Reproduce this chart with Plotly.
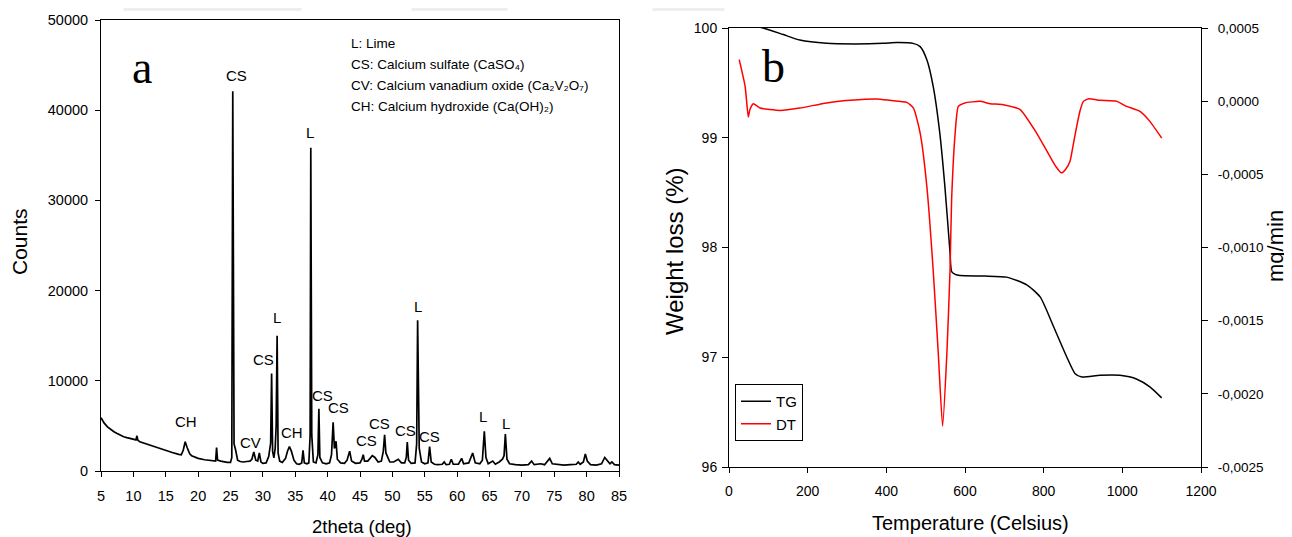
import plotly.graph_objects as go

# ---------------- Panel a: XRD pattern ----------------
two_theta = [5.0, 5.5, 6.0, 6.5, 7.0, 7.5, 8.0, 8.5, 9.0, 9.5, 10.0, 10.4, 10.55, 10.7, 11.0,
             12.0, 13.0, 14.0, 15.0, 16.0, 17.0, 17.4, 17.7, 18.0, 18.3, 18.7, 19.0, 19.5, 20.0,
             21.0, 22.0, 22.7, 22.85, 23.0, 23.5, 24.0, 24.5, 25.0, 25.2, 25.35, 25.55, 25.8,
             26.1, 26.5, 27.0, 27.5, 28.0, 28.3, 28.6, 28.9, 29.2, 29.45, 29.7, 30.0, 30.5,
             30.9, 31.1, 31.2, 31.35, 31.5, 31.7, 31.9, 32.05, 32.2, 32.35, 32.6, 33.0, 33.5,
             33.8, 34.1, 34.4, 34.8, 35.2, 35.6, 36.0, 36.2, 36.4, 36.8, 37.1, 37.3, 37.4,
             37.55, 37.8, 38.2, 38.5, 38.65, 38.8, 39.2, 39.8, 40.3, 40.6, 40.85, 41.05, 41.3,
             41.5, 42.0, 42.6, 43.0, 43.4, 43.7, 44.3, 45.0, 45.3, 45.5, 45.7, 46.2, 46.9,
             47.3, 47.8, 48.3, 48.6, 48.8, 49.0, 49.2, 49.6, 50.2, 50.9, 51.4, 51.9, 52.15,
             52.3, 52.5, 52.9, 53.5, 53.75, 53.9, 54.0, 54.15, 54.5, 55.0, 55.5, 55.75, 56.0,
             56.5, 57.0, 57.7, 58.0, 58.3, 58.8, 59.1, 59.4, 60.2, 60.7, 61.0, 61.8, 62.4,
             62.8, 63.5, 63.9, 64.2, 64.45, 64.8, 65.5, 65.9, 66.5, 67.0, 67.25, 67.45, 67.7,
             68.1, 69.0, 70.0, 71.0, 71.5, 71.9, 72.9, 73.5, 74.3, 74.7, 75.5, 76.5, 77.5,
             78.4, 78.7, 79.0, 79.5, 79.8, 80.1, 80.6, 81.5, 82.3, 82.8, 83.2, 83.6, 83.9,
             84.3, 85.0]
counts = [5900, 5300, 4900, 4600, 4350, 4150, 3950, 3800, 3700, 3600, 3500, 3450, 3900, 3400, 3250,
          3000, 2750, 2500, 2300, 2050, 1850, 1800, 2300, 3250, 2600, 1900, 1700, 1550, 1400,
          1250, 1150, 1100, 2600, 1200, 1100, 1000, 950, 950, 1500, 42100, 3000, 2300,
          1200, 1050, 1000, 1050, 1100, 1300, 2100, 1200, 1100, 2000, 1000, 850, 900,
          1600, 3000, 3100, 10800, 2200, 1450, 2500, 5000, 15000, 2000, 1100, 950, 1400,
          2200, 2700, 2200, 1200, 800, 750, 900, 2300, 900, 800, 900, 4000, 35850,
          4000, 1000, 900, 1800, 6900, 1500, 900, 800, 900, 1800, 5400, 2500, 3300,
          1300, 900, 850, 1200, 2200, 1100, 850, 900, 1300, 1800, 1100, 1100, 1700,
          1500, 1000, 1100, 2200, 4000, 2000, 1600, 1000, 1000, 1300, 900, 900, 1500,
          3200, 1200, 850, 900, 3000, 16700, 9200, 2500, 1000, 800, 900, 2700, 1000,
          750, 700, 750, 1000, 700, 750, 1300, 750, 750, 1400, 800, 900, 2000,
          900, 800, 1200, 4400, 1500, 800, 1100, 750, 1000, 1300, 1700, 4100, 1300,
          800, 700, 650, 700, 1100, 700, 800, 700, 1400, 800, 700, 650, 700,
          750, 1000, 750, 1000, 1900, 1100, 700, 650, 800, 1500, 1100, 800, 1000,
          700, 650]

xrd_xticks = [5, 10, 15, 20, 25, 30, 35, 40, 45, 50, 55, 60, 65, 70, 75, 80, 85]
xrd_yticks = [0, 10000, 20000, 30000, 40000, 50000]
xrd_ytick_text = ["0", "10000", "20000", "30000", "40000", "50000"]

peak_labels = ["CS", "L", "CH", "CV", "CS", "L", "CH", "CS", "CS", "CS", "CS", "CS", "L", "CS", "L", "L"]
peak_label_x = [26.0, 37.23, 18.15, 28.16, 30.11, 32.19, 34.51, 39.15, 41.72, 45.96, 48.02, 52.04,
                53.94, 55.8, 64.06, 67.51]
peak_label_y = [43810, 37520, 5480, 3190, 12410, 17030, 4300, 8330, 7080, 3330, 5220, 4480,
                18250, 3810, 6030, 5220]

phase_legend = ["L: Lime",
                "CS: Calcium sulfate (CaSO\u2084)",
                "CV: Calcium vanadium oxide (Ca\u2082V\u2082O\u2087)",
                "CH: Calcium hydroxide (Ca(OH)\u2082)"]

# ---------------- Panel b: TG / DT ----------------
temp_tg = [25, 87, 138, 180, 248, 320, 392, 426, 468, 486, 503, 519, 536, 549, 562, 566, 575, 587,
           650, 706, 757, 791, 825, 859, 880, 897, 943, 994, 1037, 1070, 1100]
tg = [100.05, 100.0, 99.94, 99.89, 99.86, 99.855, 99.86, 99.867, 99.86, 99.83, 99.71, 99.47, 99.04,
      98.55, 97.95, 97.78, 97.755, 97.745, 97.74, 97.73, 97.66, 97.55, 97.28, 97.0, 96.85, 96.82,
      96.835, 96.835, 96.80, 96.73, 96.63]

temp_dt = [26, 41, 49, 53, 62, 79, 130, 180, 248, 308, 375, 409, 452, 469, 486, 503, 519, 532, 543,
           554, 562, 566, 575, 583, 600, 638, 664, 697, 740, 782, 816, 832, 845, 856, 867, 875,
           884, 893, 901, 914, 943, 986, 1011, 1045, 1070, 1100]
dt = [0.000284, 0.000101, -0.000108, -0.000058, -0.000017, -0.000047, -0.000063, -0.000047,
      -0.000012, 0.0000055, 0.000015, 0.0000055, -0.000008, -0.000047, -0.000218, -0.000583,
      -0.00115, -0.00172, -0.00222, -0.00172, -0.00115, -0.00067, -0.000218, -0.000036,
      -0.000012, -0.0000014, -0.000017, -0.000024, -0.000058, -0.000218, -0.000378, -0.00045,
      -0.00049, -0.000465, -0.00041, -0.0003, -0.000172, -0.00006, -0.0000014, 0.000017,
      0.0000055, -0.0000014, -0.000036, -0.00007, -0.000138, -0.000252]

tga_xticks = [0, 200, 400, 600, 800, 1000, 1200]
tg_yticks = [96, 97, 98, 99, 100]
dt_yticks = [-0.0025, -0.0020, -0.0015, -0.0010, -0.0005, 0.0, 0.0005]
dt_ytick_text = ["-0,0025", "-0,0020", "-0,0015", "-0,0010", "-0,0005", "0,0000", "0,0005"]

# ---------------- Figure ----------------
# The page body adds an 8 px offset, so the figure is drawn 8 px smaller and
# all screen positions below are converted with that offset.
SW, SH = 1292, 537
OFF = 8
W, H = SW - OFF, SH - OFF
FONT = "Liberation Sans, Arial, sans-serif"
SERIF = "Liberation Serif, Times New Roman, serif"


def px_x(p):
    return (p - OFF) / W


def px_y(p):
    return 1 - (p - OFF) / H


fig = go.Figure()
fig.add_trace(go.Scatter(x=two_theta, y=counts, mode="lines", showlegend=False,
                         line=dict(color="black", width=1.7), xaxis="x", yaxis="y"))
fig.add_trace(go.Scatter(x=temp_tg, y=tg, mode="lines", name="TG",
                         line=dict(color="black", width=1.5, shape="spline", smoothing=0.6),
                         xaxis="x2", yaxis="y2"))
fig.add_trace(go.Scatter(x=temp_dt, y=dt, mode="lines", name="DT",
                         line=dict(color="red", width=1.5, shape="spline", smoothing=0.5),
                         xaxis="x2", yaxis="y3"))


def axis_style(size, ticklen=5, standoff=0):
    return dict(showline=True, linecolor="black", linewidth=1, ticks="outside", ticklen=ticklen,
                tickcolor="black", showgrid=False, zeroline=False, ticklabelstandoff=standoff,
                tickfont=dict(family=FONT, size=size, color="black"))


fig.update_layout(
    width=W, height=H,
    margin=dict(l=0, r=0, t=0, b=0, autoexpand=False),
    paper_bgcolor="white", plot_bgcolor="white",
    font=dict(family=FONT, color="black"),
    xaxis=dict(domain=[px_x(101), px_x(619)], range=[5, 85], tickvals=xrd_xticks,
               anchor="y", mirror=True, **axis_style(14.5, 5, 7)),
    yaxis=dict(domain=[px_y(471), px_y(20)], range=[0, 50000], tickvals=xrd_yticks,
               ticktext=xrd_ytick_text, anchor="x", mirror=True, **axis_style(14.5, 5, 4)),
    xaxis2=dict(domain=[px_x(729), px_x(1201)], range=[0, 1200], tickvals=tga_xticks,
                anchor="y2", mirror=True, **axis_style(14, 5, 6)),
    yaxis2=dict(domain=[px_y(467), px_y(28)], range=[96, 100], tickvals=tg_yticks,
                anchor="x2", side="left", **axis_style(14, 6, 2)),
    yaxis3=dict(range=[-0.0025, 0.0005], tickvals=dt_yticks, ticktext=dt_ytick_text,
                overlaying="y2", anchor="x2", side="right", **axis_style(13.5, 6, 7)),
    legend=dict(x=px_x(735), y=px_y(384), xanchor="left", yanchor="top",
                bordercolor="black", borderwidth=1, bgcolor="white",
                font=dict(family=FONT, size=15, color="black")),
)

# faint watermark slivers at the top edge
for x0, x1 in [(123, 304), (411, 510), (652, 727)]:
    fig.add_shape(type="path", xref="paper", yref="paper", layer="below",
                  path=f"M {px_x(x0 + 3)} {px_y(0)} L {px_x(x1)} {px_y(0)} "
                       f"L {px_x(x1 - 3)} {px_y(11)} L {px_x(x0)} {px_y(11)} Z",
                  fillcolor="#eeeeee", line=dict(width=0))

ann = []
for t, x, y in zip(peak_labels, peak_label_x, peak_label_y):
    ann.append(dict(text=t, x=x, y=y, xref="x", yref="y", showarrow=False,
                    xanchor="center", yanchor="middle",
                    font=dict(family=FONT, size=15, color="black")))

for t, yy in zip(phase_legend, [44, 64, 85, 106]):
    ann.append(dict(text=t, x=px_x(349), y=px_y(yy), xref="paper", yref="paper",
                    xanchor="left", yanchor="middle", showarrow=False,
                    font=dict(family=FONT, size=13.5, color="black")))


def paper_text(text, x, y, size, angle=0, family=FONT):
    return dict(text=text, x=px_x(x), y=px_y(y), xref="paper", yref="paper", showarrow=False,
                xanchor="center", yanchor="middle", textangle=angle,
                font=dict(family=family, size=size, color="black"))


# panel letters
ann.append(paper_text("a", 142, 68, 46, family=SERIF))
ann.append(paper_text("b", 773, 66, 46, family=SERIF))

# axis titles
ann.append(paper_text("Counts", 19, 242, 21, -90))
ann.append(paper_text("2theta (deg)", 362, 526, 18.5))
ann.append(paper_text("Weight loss (%)", 675, 251, 24, -90))
ann.append(paper_text("mg/min", 1275, 246, 22, -90))
ann.append(paper_text("Temperature (Celsius)", 970, 523, 20))

fig.update_layout(annotations=ann)
fig.write_html("out.html")
